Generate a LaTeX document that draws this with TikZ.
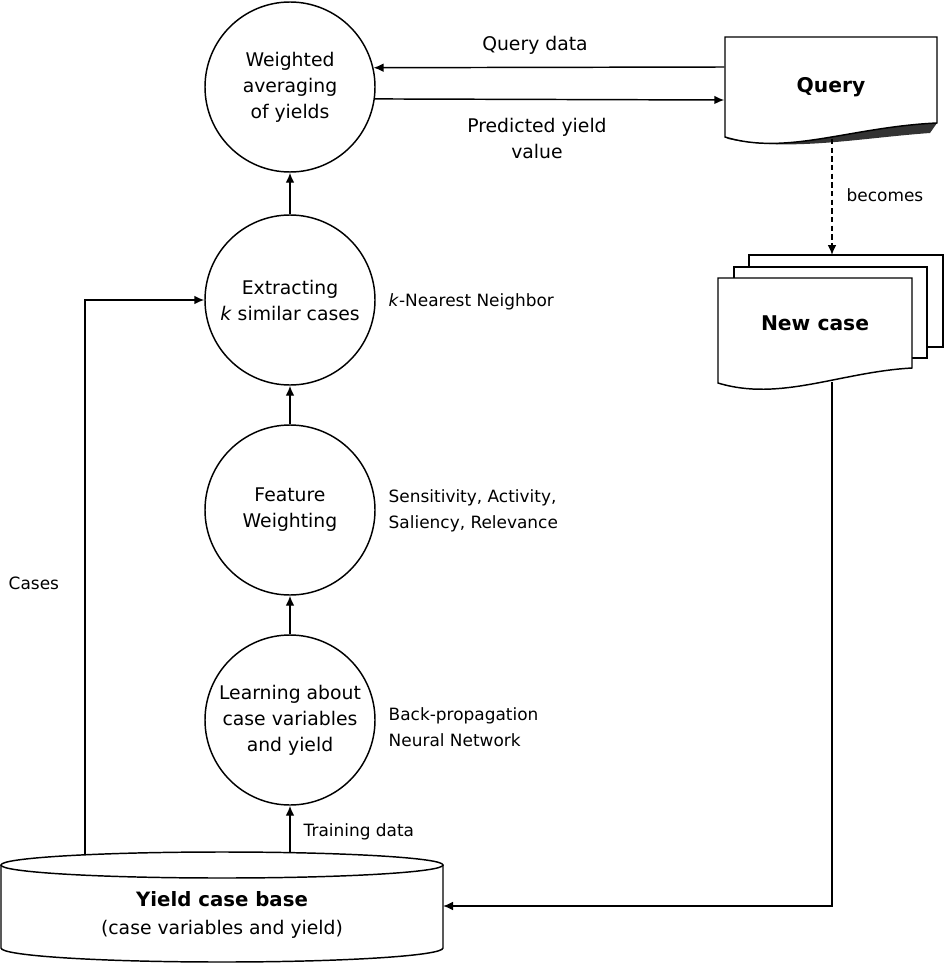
\documentclass[tikz,border=0pt]{standalone}
\usepackage{fontspec}
\setmainfont{DejaVu Sans}
\usetikzlibrary{arrows.meta}

\begin{document}
\begin{tikzpicture}[x=0.75pt,y=-0.75pt,line width=1.1pt]
\tikzstyle{every node}+=[inner sep=0pt,font=\fontsize{14.1}{19.5}\selectfont]
\tikzstyle{proc}=[draw,circle,minimum size=127.5pt,align=center]
\tikzstyle{side}=[anchor=west,align=left,font=\fontsize{12.7}{19.5}\selectfont]
\tikzstyle{big}=[font=\fontsize{15.2}{18}\selectfont\bfseries]
\tikzstyle{arr}=[-{Latex[length=7.5pt,width=6.5pt]}]
\useasboundingbox (0,0) rectangle (945,963);
\node (avg) at (290,87) [proc] {Weighted\\averaging\\of yields};
\node (knn) at (290,300) [proc] {Extracting\\\textit{k} similar cases};
\node (fw) at (290,510) [proc] {Feature\\Weighting};
\node (bp) at (290,720) [proc] {Learning about\\case variables\\and yield};
\fill [black!80] (725,137) .. controls (787,156) and (850,127) .. (937,123) -- (930,133) .. controls (860,138) and (790,152) .. (728,139) -- cycle;
\draw [fill=white] (725,37) -- (937,37) -- (937,123) .. controls (850,127) and (787,156) .. (725,137) -- cycle;
\node (query) at (831,87) [big,minimum width=159pt,minimum height=75pt] {Query};
\draw [fill=white] (749,255) rectangle (943,347);
\draw [fill=white] (734,267) rectangle (927,358);
\draw [fill=white] (718,278) -- (912,278) -- (912,368) .. controls (840,372) and (780,402) .. (718,383) -- cycle;
\node (newcase) at (815,323) [big,minimum width=145.5pt,minimum height=67.5pt] {New case};
\draw (1,865) -- (1,948) arc [start angle=180,end angle=0,x radius=221,y radius=14] -- (443,865);
\draw [fill=white] (222,865) ellipse [x radius=221,y radius=13];
\node (base) at (222,915) [align=center] {{\fontsize{14.8}{18}\selectfont\bfseries Yield case base}\\[2pt](case variables and yield)};
\coordinate (cb1) at (85,855);
\coordinate (cb2) at (290,853);
\coordinate (qb) at (832,139);
\coordinate (nt) at (832,255);
\coordinate (nb) at (832,382);
\coordinate (dbr) at (443,906);
\draw [arr] ([yshift=15pt]query.west) -- (avg.13.6);
\draw [arr] (avg.-8.8) -- ([yshift=-9.75pt]query.west);
\draw [arr,dash pattern=on 4pt off 2.5pt] (qb) -- (nt);
\draw [arr] (nb) |- (dbr);
\draw [arr] (cb1) |- (knn.west);
\draw [arr] (cb2) -- (bp);
\draw [arr] (bp) -- (fw);
\draw [arr] (fw) -- (knn);
\draw [arr] (knn) -- (avg);
\node (qdata) at (535,45) {Query data};
\node (pred) at (537,138) [align=center] {Predicted yield\\value};
\node (becomes) at (846,195) [side] {becomes};
\node (knnlab) at (388,302) [side] {\textit{k}-Nearest Neighbor};
\node (fwlab) at (388,511) [side] {Sensitivity, Activity,\\Saliency, Relevance};
\node (bplab) at (388,727) [side] {Back-propagation\\Neural Network};
\node (caseslab) at (8,583) [side] {Cases};
\node (trainlab) at (303,832) [side] {Training data};
\end{tikzpicture}
\end{document}
